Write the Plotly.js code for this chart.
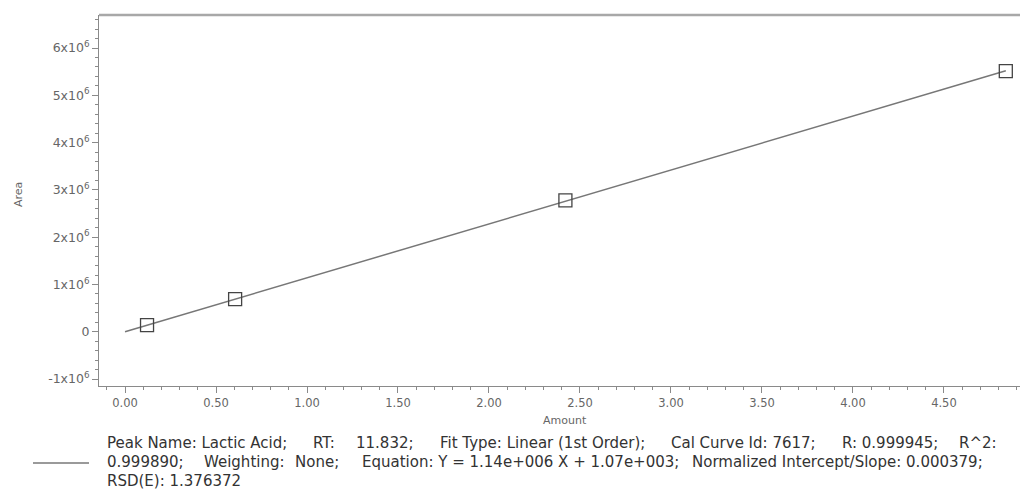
<!DOCTYPE html>
<html>
<head>
<meta charset="utf-8">
<script src="https://cdn.plot.ly/plotly-3.0.1.min.js"></script>
<style>html,body{margin:0;padding:0;background:#fff;}#chart{width:1020px;height:489px;}</style>
</head>
<body>
<div id="chart"></div>
<script>
// Calibration standards (Amount vs Area)
const amounts = [0.121, 0.605, 2.42, 4.84];
const areas = [140000, 690000, 2780000, 5510000];

// Fit line endpoints and equation constants
const fitSlope = 1.14e6;
const fitIntercept = 1.07e3;
const fitX = [0, 4.84];

// Tick labels
const yTickVals = [-1e6, 0, 1e6, 2e6, 3e6, 4e6, 5e6, 6e6];
const yTickText = ['-1x10<sup>6</sup>', '0', '1x10<sup>6</sup>', '2x10<sup>6</sup>', '3x10<sup>6</sup>', '4x10<sup>6</sup>', '5x10<sup>6</sup>', '6x10<sup>6</sup>'];
const xTickVals = [0, 0.5, 1, 1.5, 2, 2.5, 3, 3.5, 4, 4.5];
const xTickText = ['0.00', '0.50', '1.00', '1.50', '2.00', '2.50', '3.00', '3.50', '4.00', '4.50'];

// Legend text, line by line, in pieces
const legendLine1 = ['Peak Name: Lactic Acid;', 'RT:', '11.832;', 'Fit Type: Linear (1st Order);', 'Cal Curve Id: 7617;', 'R: 0.999945;', 'R^2:'];
const legendLine2 = ['0.999890;', 'Weighting:', 'None;', 'Equation: Y = 1.14e+006 X + 1.07e+003;', 'Normalized Intercept/Slope: 0.000379;'];
const legendLine3 = ['RSD(E): 1.376372'];

const fitY = fitX.map(x => fitSlope * x + fitIntercept);

const font = 'DejaVu Sans, Verdana, sans-serif';
const L = 99, B = 386, W = 921, H = 371;
const px = x => (x - L) / W;
const py = y => (B - y) / H;

// layout positions (pixels) of legend pieces
const legendPos = [
  {y: 443, xs: [105, 311, 354, 438, 669, 840, 957], parts: legendLine1},
  {y: 462, xs: [105, 202, 293, 360, 690], parts: legendLine2},
  {y: 481, xs: [105], parts: legendLine3}
];

const legendAnns = [];
legendPos.forEach(row => row.parts.forEach((t, i) => legendAnns.push({
  text: t, xref: 'paper', yref: 'paper', x: px(row.xs[i]), y: py(row.y),
  showarrow: false, font: {size: 15, color: '#333', family: font}, xanchor: 'left', yanchor: 'middle'
})));

const traces = [
  {
    x: fitX, y: fitY, type: 'scatter', mode: 'lines',
    line: {color: '#777', width: 1.5}, hoverinfo: 'skip', showlegend: false
  },
  {
    x: amounts, y: areas, type: 'scatter', mode: 'markers',
    marker: {symbol: 'square-open', size: 13, color: '#444', line: {width: 1.3, color: '#444'}},
    showlegend: false
  }
];

const layout = {
  width: 1020, height: 489,
  margin: {l: L, r: 0, t: 15, b: 489 - B, pad: 0},
  paper_bgcolor: '#fff', plot_bgcolor: '#fff',
  font: {family: font, color: '#555', size: 11},
  showlegend: false,
  xaxis: {
    range: [-0.143, 4.918], showgrid: false, zeroline: false,
    showline: true, linecolor: '#8a8a8a', linewidth: 1,
    ticks: 'outside', ticklen: 6, tickcolor: '#8a8a8a', tickwidth: 1,
    tickmode: 'array', tickvals: xTickVals, ticktext: xTickText,
    tickfont: {size: 11.5, color: '#666', family: font},
    minor: {dtick: 0.1, tick0: 0, ticks: 'outside', ticklen: 3, tickcolor: '#8a8a8a', showgrid: false},
    title: {text: ''}
  },
  yaxis: {
    range: [-1.146e6, 6.698e6], showgrid: false, zeroline: false,
    showline: true, linecolor: '#8a8a8a', linewidth: 1,
    ticks: 'outside', ticklen: 6, tickcolor: '#8a8a8a', tickwidth: 1,
    tickmode: 'array', tickvals: yTickVals, ticktext: yTickText,
    tickfont: {size: 12.5, color: '#666', family: font},
    minor: {dtick: 200000, tick0: 0, ticks: 'outside', ticklen: 3, tickcolor: '#8a8a8a', showgrid: false},
    title: {text: ''}
  },
  shapes: [
    {type: 'line', xref: 'paper', yref: 'paper', x0: 0, x1: 1, y0: 1, y1: 1, line: {color: '#a8a8a8', width: 2.5}},
    {type: 'line', xref: 'paper', yref: 'paper', x0: px(33), x1: px(89), y0: py(463), y1: py(463), line: {color: '#9a9a9a', width: 1.8}}
  ],
  annotations: [
    {text: 'Area', xref: 'paper', yref: 'paper', x: px(18), y: py(195), textangle: -90,
     showarrow: false, font: {size: 11, color: '#666', family: font}, xanchor: 'center', yanchor: 'middle'},
    {text: 'Amount', xref: 'paper', yref: 'paper', x: px(565), y: py(420),
     showarrow: false, font: {size: 11, color: '#666', family: font}, xanchor: 'center', yanchor: 'middle'},
    ...legendAnns
  ]
};

Plotly.newPlot('chart', traces, layout, {staticPlot: true, displayModeBar: false});
</script>
</body>
</html>
